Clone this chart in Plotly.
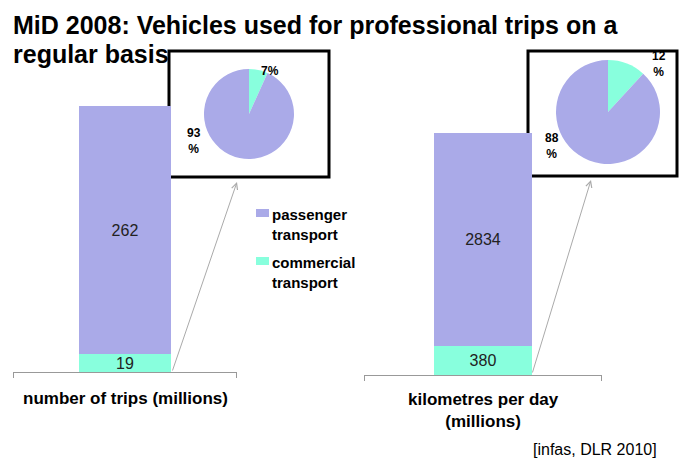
import plotly.graph_objects as go

W, H = 679, 458

# ---- data ----
series_names = ["passenger<br>transport", "commercial<br>transport"]
trips_values = [262, 19]          # millions of trips: passenger, commercial
km_values = [2834, 380]           # million km per day: passenger, commercial
categories = ["number of trips (millions)", "kilometres per day<br>(millions)"]
title_lines = ["MiD 2008: Vehicles used for professional trips on a", "regular basis"]
source_text = "[infas, DLR 2010]"

col_pass = "#AAAAE8"
col_comm = "#88FFDD"
FONT = "Liberation Sans"

def px(x):
    return x / W

def py(y):
    return 1 - y / H

fig = go.Figure()

# stacked bars (commercial at bottom, passenger on top)
for i, (vals, xa, ya) in enumerate([(trips_values, "x", "y"), (km_values, "x2", "y2")]):
    fig.add_trace(go.Bar(
        x=[0], y=[vals[1]], xaxis=xa, yaxis=ya, width=0.82,
        marker=dict(color=col_comm, line=dict(width=0)),
        name=series_names[1], showlegend=False,
        text=[str(vals[1])], textposition="inside", insidetextanchor="middle",
        constraintext="none", textfont=dict(size=16, color="#222222", family=FONT),
    ))
    fig.add_trace(go.Bar(
        x=[0], y=[vals[0]], xaxis=xa, yaxis=ya, width=0.82,
        marker=dict(color=col_pass, line=dict(width=0)),
        name=series_names[0], showlegend=False,
        text=[str(vals[0])], textposition="inside", insidetextanchor="middle",
        constraintext="none", textfont=dict(size=16, color="#222222", family=FONT),
    ))

# inset pies
pie_specs = [
    (trips_values, (249, 114), 45),
    (km_values, (608, 112), 52),
]
for vals, (cx, cy), r in pie_specs:
    fig.add_trace(go.Pie(
        values=[vals[1], vals[0]], labels=["commercial", "passenger"],
        marker=dict(colors=[col_comm, col_pass], line=dict(width=0)),
        sort=False, direction="clockwise", rotation=0,
        textinfo="none", hoverinfo="skip", showlegend=False,
        domain=dict(x=[px(cx - r), px(cx + r)], y=[py(cy + r), py(cy - r)]),
    ))

shapes = [
    dict(type="rect", xref="paper", yref="paper", x0=px(169), x1=px(329), y0=py(177), y1=py(51),
         line=dict(color="black", width=3), fillcolor="rgba(0,0,0,0)", layer="below"),
    dict(type="rect", xref="paper", yref="paper", x0=px(528), x1=px(677), y0=py(176), y1=py(51),
         line=dict(color="black", width=3), fillcolor="rgba(0,0,0,0)", layer="below"),
]

annotations = []
# title
annotations.append(dict(text="<b>%s</b>" % title_lines[0], xref="paper", yref="paper",
                        x=px(11), y=py(25), xanchor="left", yanchor="middle", showarrow=False,
                        font=dict(size=25, color="black", family=FONT)))
annotations.append(dict(text="<b>%s</b>" % title_lines[1], xref="paper", yref="paper",
                        x=px(11), y=py(54), xanchor="left", yanchor="middle", showarrow=False,
                        font=dict(size=25, color="black", family=FONT)))
# category labels
annotations.append(dict(text="<b>%s</b>" % categories[0], xref="x", yref="paper", x=0,
                        y=py(398), xanchor="center", yanchor="middle", showarrow=False,
                        font=dict(size=17, color="black", family=FONT)))
annotations.append(dict(text="<b>%s</b>" % categories[1], xref="x2", yref="paper", x=0,
                        y=py(410), xanchor="center", yanchor="middle", showarrow=False,
                        font=dict(size=17, color="black", family=FONT)))
# source
annotations.append(dict(text=source_text, xref="paper", yref="paper", x=px(659), y=py(449),
                        xanchor="right", yanchor="middle", showarrow=False,
                        font=dict(size=16, color="black", family=FONT)))

# legend (drawn manually to match the original spacing)
legend_items = [(series_names[0], col_pass, 209), (series_names[1], col_comm, 257)]
for name, col, ytop in legend_items:
    shapes.append(dict(type="rect", xref="paper", yref="paper", x0=px(256), x1=px(269),
                       y0=py(ytop + 8), y1=py(ytop), line=dict(width=0), fillcolor=col))
    annotations.append(dict(text="<b>%s</b>" % name, xref="paper", yref="paper",
                            x=px(270), y=py(ytop - 5), xanchor="left", yanchor="top",
                            align="left", showarrow=False,
                            font=dict(size=15, color="black", family=FONT)))

# pie percentage labels
def pct(v, tot):
    return round(100 * v / tot)

tt = sum(trips_values)
kt = sum(km_values)
pie_labels = [
    ("%d%%" % pct(trips_values[1], tt), 270, 71),
    ("%d<br>%%" % pct(trips_values[0], tt), 194, 141),
    ("%d<br>%%" % pct(km_values[1], kt), 659, 64),
    ("%d<br>%%" % pct(km_values[0], kt), 552, 146),
]
for t, x, y in pie_labels:
    annotations.append(dict(text="<b>%s</b>" % t, xref="paper", yref="paper", x=px(x), y=py(y),
                            xanchor="center", yanchor="middle", showarrow=False,
                            font=dict(size=12, color="black", family=FONT)))

# connector arrows from bar base to inset boxes
for (tx, ty), (sx, sy) in [((237, 182), (172, 372)), ((591, 180), (532, 374))]:
    annotations.append(dict(text="", xref="paper", yref="paper", x=px(tx), y=py(ty),
                            ax=sx - tx, ay=sy - ty, showarrow=True, arrowhead=5,
                            arrowsize=1.2, arrowwidth=1, arrowcolor="#AAAAAA"))

axis_common = dict(range=[-1, 1], showgrid=False, zeroline=False, showline=True,
                   linecolor="#999999", linewidth=1, ticks="outside", tickvals=[-0.999, 0.999],
                   ticklen=5, tickcolor="#999999", showticklabels=False, fixedrange=True)

fig.update_layout(
    width=W, height=H, margin=dict(l=0, r=0, t=0, b=0, pad=0),
    paper_bgcolor="white", plot_bgcolor="rgba(0,0,0,0)",
    barmode="stack", bargap=0, showlegend=False,
    xaxis=dict(domain=[px(13), px(237)], anchor="y", **axis_common),
    yaxis=dict(domain=[py(372), 1], range=[0, 393], visible=False, anchor="x"),
    xaxis2=dict(domain=[px(364), px(602)], anchor="y2", **axis_common),
    yaxis2=dict(domain=[py(375), 1], range=[0, 4980], visible=False, anchor="x2"),
    shapes=shapes,
    annotations=annotations,
    font=dict(family=FONT),
)

fig.write_html("out.html")
